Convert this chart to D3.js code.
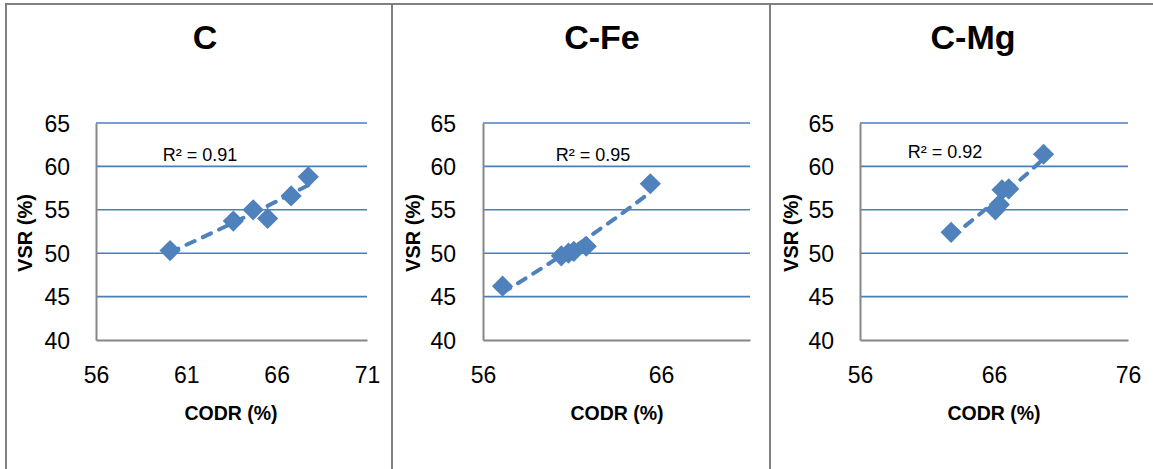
<!DOCTYPE html>
<html>
<head>
<meta charset="utf-8">
<script src="https://cdn.jsdelivr.net/npm/d3@7"></script>
<style>
  body { margin: 0; background: #fff; }
  svg { display: block; font-family: "Liberation Sans", Arial, sans-serif; }
</style>
</head>
<body>
<svg id="chart" width="1153" height="469"></svg>
<script>
let width = 1153,
  height = 469;

// data
let titles = ["C", "C-Fe", "C-Mg"]
let r2_labels = ["R² = 0.91", "R² = 0.95", "R² = 0.92"]
let codr_c = [60.1, 63.6, 64.7, 65.5, 66.8, 67.75]
let vsr_c = [50.3, 53.7, 55.0, 54.0, 56.6, 58.8]
let codr_fe = [57.1, 60.4, 60.8, 61.1, 61.8, 65.4]
let vsr_fe = [46.2, 49.7, 50.0, 50.2, 50.8, 58.0]
let codr_mg = [62.8, 66.1, 66.4, 66.6, 67.1, 69.7]
let vsr_mg = [52.4, 55.0, 55.6, 57.3, 57.4, 61.4]
let x_ticks = [[56, 61, 66, 71], [56, 66], [56, 66, 76]]
let x_domains = [[56, 71], [56, 71], [56, 76]]
let y_ticks = [40, 45, 50, 55, 60, 65]

// panel layout in pixels
let layout = [
  { frame: 6, left: 96, right: 367, title: 205, r2x: 200, r2y: 155, ytitle: 25, xtitle: 231 },
  { frame: 392, left: 483, right: 750, title: 602, r2x: 593, r2y: 155, ytitle: 413, xtitle: 617 },
  { frame: 770, left: 860, right: 1128, title: 973, r2x: 945, r2y: 152, ytitle: 791, xtitle: 994 }
]
let plot_top = 123, plot_bottom = 340

let blue = "#4f81bd"

function exp_fit(xs, ys) {
  // least squares on ln(y), like an exponential trendline
  let n = xs.length
  let ly = ys.map(Math.log)
  let mx = d3.mean(xs), my = d3.mean(ly)
  let sxy = 0, sxx = 0
  for (let i = 0; i < n; i++) {
    sxy += (xs[i] - mx) * (ly[i] - my)
    sxx += (xs[i] - mx) * (xs[i] - mx)
  }
  let b = sxy / sxx
  let a = my - b * mx
  return x => Math.exp(a + b * x)
}

function panel(svg, i, xs, ys) {
  let lay = layout[i]
  let g = svg.append("g")

  let scales = {
    x: d3.scaleLinear().domain(x_domains[i]).range([lay.left, lay.right]),
    y: d3.scaleLinear().domain([40, 65]).range([plot_bottom, plot_top])
  }

  // horizontal grid lines
  g.selectAll("line.grid")
    .data(y_ticks.filter(d => d > 40)).enter()
    .append("line")
    .attr("x1", lay.left).attr("x2", lay.right)
    .attr("y1", d => scales.y(d)).attr("y2", d => scales.y(d))
    .attr("stroke", "#4a7ebb").attr("stroke-width", 1.6)

  // axes
  let axis = {
    x: d3.axisBottom(scales.x).tickValues(x_ticks[i]).tickSize(0),
    y: d3.axisLeft(scales.y).tickValues(y_ticks).tickSize(0)
  }
  let gx = g.append("g").attr("transform", `translate(0,${plot_bottom})`).call(axis.x)
  let gy = g.append("g").attr("transform", `translate(${lay.left},0)`).call(axis.y)
  for (let a of [gx, gy]) {
    a.select(".domain").attr("stroke", "#868686").attr("stroke-width", 2)
    a.selectAll("text").attr("font-size", 23).attr("fill", "#000")
      .attr("font-family", "Liberation Sans, Arial, sans-serif")
  }
  gx.selectAll("text").attr("y", 35).attr("dy", "0.35em")
  gy.selectAll("text").attr("x", -(lay.left - lay.frame - 64)).attr("dy", "0.35em")

  // trendline
  let f = exp_fit(xs, ys)
  let lo = d3.min(xs), hi = d3.max(xs)
  let samples = d3.range(0, 21).map(k => lo + (hi - lo) * k / 20)
  let line_gen = d3.line()
    .x(d => scales.x(d))
    .y(d => scales.y(f(d)))
  g.append("path")
    .attr("d", line_gen(samples))
    .attr("fill", "none")
    .attr("stroke", blue)
    .attr("stroke-width", 4)
    .attr("stroke-linecap", "round")
    .attr("stroke-dasharray", "9,9")

  // markers
  g.selectAll("path.pt")
    .data(xs.map((x, k) => [x, ys[k]])).enter()
    .append("path")
    .attr("d", d3.symbol(d3.symbolSquare, 225))
    .attr("transform", d => `translate(${scales.x(d[0])},${scales.y(d[1])}) rotate(45)`)
    .attr("fill", blue)

  // texts
  g.append("text")
    .attr("x", lay.title).attr("y", 49)
    .attr("text-anchor", "middle")
    .attr("font-size", 34).attr("font-weight", "bold")
    .text(titles[i])
  g.append("text")
    .attr("x", lay.r2x).attr("y", lay.r2y)
    .attr("dy", "0.35em")
    .attr("text-anchor", "middle")
    .attr("font-size", 18)
    .text(r2_labels[i])
  g.append("text")
    .attr("x", lay.xtitle).attr("y", 413)
    .attr("dy", "0.35em")
    .attr("text-anchor", "middle")
    .attr("font-size", 19.5).attr("font-weight", "bold")
    .text("CODR (%)")
  g.append("text")
    .attr("transform", `translate(${lay.ytitle},233) rotate(-90)`)
    .attr("dy", "0.35em")
    .attr("text-anchor", "middle")
    .attr("font-size", 20).attr("font-weight", "bold")
    .text("VSR (%)")
}

let svg = d3.select("#chart")

// frames
svg.append("line").attr("x1", 5).attr("x2", width).attr("y1", 4).attr("y2", 4)
  .attr("stroke", "#808080").attr("stroke-width", 2)
svg.selectAll("line.frame")
  .data(layout).enter()
  .append("line")
  .attr("x1", d => d.frame).attr("x2", d => d.frame)
  .attr("y1", 4).attr("y2", height)
  .attr("stroke", "#808080").attr("stroke-width", 2)

panel(svg, 0, codr_c, vsr_c)
panel(svg, 1, codr_fe, vsr_fe)
panel(svg, 2, codr_mg, vsr_mg)
</script>
</body>
</html>
